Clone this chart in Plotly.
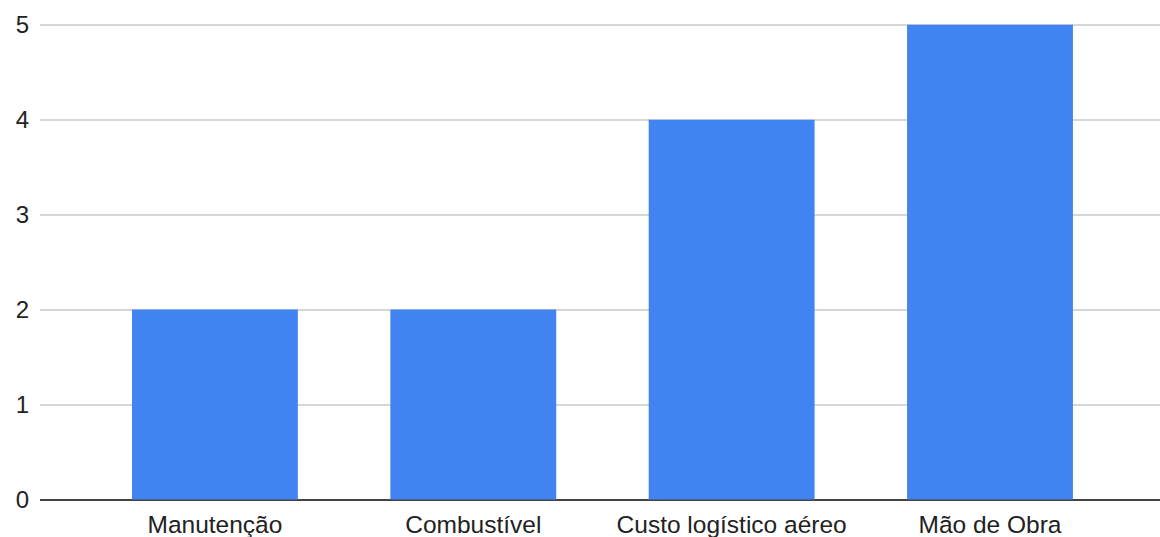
import plotly.graph_objects as go

categories = ["Manutenção", "Combustível", "Custo logístico aéreo", "Mão de Obra"]
values = [2, 2, 4, 5]
y_ticks = [0, 1, 2, 3, 4, 5]

fig = go.Figure(
    go.Bar(
        x=list(range(len(categories))),
        y=values,
        width=0.642,
        marker=dict(color="#4283F2", line=dict(width=0)),
    )
)

fig.update_layout(
    width=1160,
    height=537,
    margin=dict(l=40, r=0, t=20, b=37),
    paper_bgcolor="white",
    plot_bgcolor="white",
    showlegend=False,
    font=dict(family="Liberation Sans, Arial, sans-serif", size=24, color="#222222"),
)

fig.update_xaxes(
    range=[-0.677, 3.658],
    tickmode="array",
    tickvals=list(range(len(categories))),
    ticktext=categories,
    showgrid=False,
    zeroline=False,
    showline=False,
    ticks="",
    ticklabelstandoff=7,
    tickfont=dict(size=24.5, color="#222222"),
)

fig.update_yaxes(
    range=[-0.005, 5.05],
    tickmode="array",
    tickvals=y_ticks,
    showgrid=True,
    gridcolor="#d6d6d6",
    gridwidth=2,
    zeroline=True,
    zerolinecolor="#444444",
    zerolinewidth=2,
    showline=False,
    ticks="",
    ticklabelstandoff=10,
    tickfont=dict(size=24, color="#222222"),
)

fig.write_html("out.html")
